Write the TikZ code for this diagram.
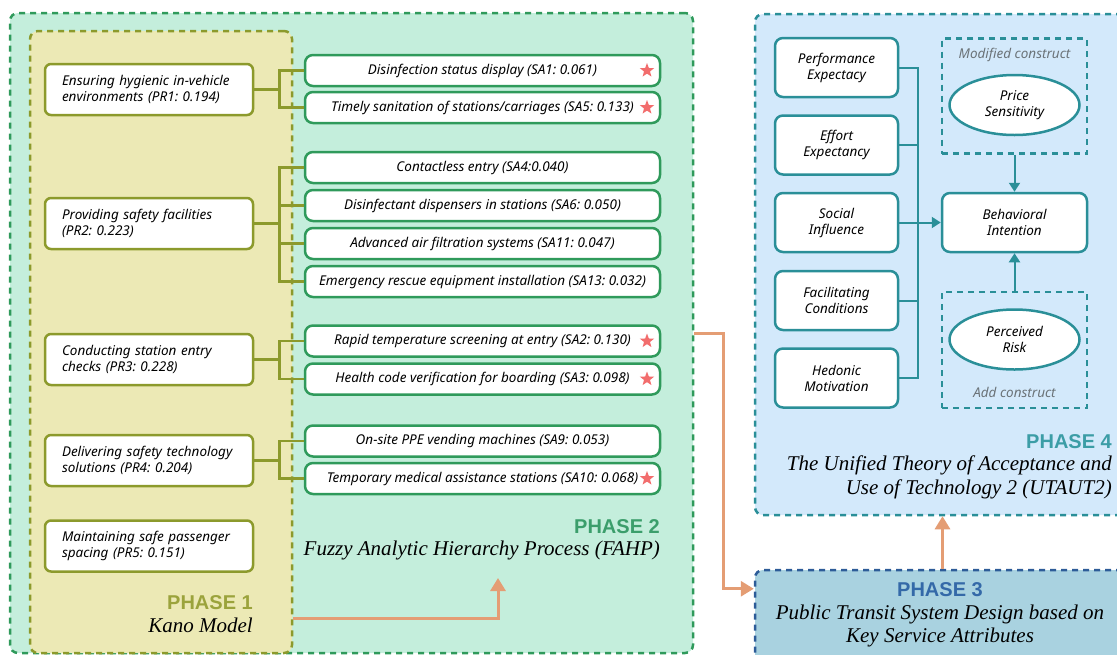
\documentclass[tikz,border=0pt]{standalone}
\usepackage{fontspec}
\setmainfont{Liberation Serif}
\setsansfont{Noto Sans}
\newfontfamily\titlefont{Liberation Sans}
\usetikzlibrary{shapes.geometric,arrows.meta}
\definecolor{mintbg}{HTML}{C4EEDC}
\definecolor{kgreen}{HTML}{2F9A5B}
\definecolor{yellowbg}{HTML}{ECE9B5}
\definecolor{kolive}{HTML}{8C9A2C}
\definecolor{bluebg}{HTML}{D3E9FB}
\definecolor{uteal}{HTML}{2A8F98}
\definecolor{ph3bg}{HTML}{A9D2E0}
\definecolor{ph3line}{HTML}{2D5C98}
\definecolor{ph3txt}{HTML}{3469A8}
\definecolor{orng}{HTML}{E49D74}
\definecolor{ph1txt}{HTML}{9BA33C}
\definecolor{ph2txt}{HTML}{3B9E6B}
\definecolor{ph4txt}{HTML}{3C9DA6}
\definecolor{starred}{HTML}{F26D6D}
\definecolor{graytxt}{HTML}{6B7378}
\frenchspacing
\begin{document}
\begin{tikzpicture}[x=1pt,y=-1pt,
  every node/.style={font=\sffamily\itshape\fontsize{13.5}{16.5}\selectfont},
  ph1box/.style={draw=kolive, fill=yellowbg, line width=2.5pt, dash pattern=on 6pt off 5pt, rounded corners=8pt, inner sep=0pt},
  ph2box/.style={draw=kgreen, fill=mintbg, line width=2.5pt, dash pattern=on 6pt off 5pt, rounded corners=8pt, inner sep=0pt},
  ph4box/.style={draw=uteal, fill=bluebg, line width=2.5pt, dash pattern=on 6pt off 5pt, rounded corners=8pt, inner sep=0pt},
  ph3box/.style={draw=ph3line, fill=ph3bg, line width=2.5pt, dash pattern=on 6pt off 5pt, rounded corners=8pt, inner sep=0pt},
  prbox/.style={draw=kolive, fill=white, line width=2.5pt, rounded corners=6pt, text width=174pt, align=left, inner xsep=17pt, minimum height=51pt},
  sabox/.style={draw=kgreen, fill=white, line width=2.5pt, rounded corners=8pt, minimum width=355pt, minimum height=31pt, inner sep=0pt},
  ubox/.style={draw=uteal, fill=white, line width=2.5pt, rounded corners=8pt, minimum width=123pt, minimum height=59pt, align=center, font=\sffamily\itshape\fontsize{13.5}{16}\selectfont},
  uell/.style={ellipse, draw=uteal, fill=white, line width=2.5pt, minimum width=130pt, minimum height=60pt, align=center, inner sep=0pt, font=\sffamily\itshape\fontsize{13.5}{16}\selectfont},
  cbox/.style={draw=uteal, line width=2.5pt, dash pattern=on 6pt off 5pt, minimum width=145pt, inner sep=0pt},
  redstar/.style={star, star points=5, star point ratio=2.4, fill=starred, minimum size=15pt, inner sep=0pt},
  prline/.style={draw=kolive, line width=2.5pt},
  uline/.style={draw=uteal, line width=2pt},
  uarrow/.style={uline, -{Triangle[length=9pt,width=11pt]}},
  flow/.style={draw=orng, line width=3pt, -{Triangle[length=13pt,width=15pt]}},
  phtitle/.style={font=\titlefont\bfseries\fontsize{20}{22}\selectfont, inner sep=0pt},
  phname/.style={font=\rmfamily\itshape\fontsize{21}{23.5}\selectfont, inner sep=0pt}]
  \clip (0,0) rectangle (1117,654);
  \node[ph2box, minimum width=683pt, minimum height=640pt] (ph2) at (351.5,333) {};
  \node[ph1box, minimum width=262pt, minimum height=622pt] (ph1) at (161,342) {};
  \node[ph4box, minimum width=375pt, minimum height=501pt] (ph4) at (942.5,264.5) {};
  \node[ph3box, minimum width=375pt, minimum height=110pt] (ph3) at (942.5,625) {};
  \node[prbox] (pr1) at (149,89.5) {Ensuring hygienic in-vehicle\\environments (PR1: 0.194)};
  \node[prbox] (pr2) at (149,223.5) {Providing safety facilities\\(PR2: 0.223)};
  \node[prbox] (pr3) at (149,359.5) {Conducting station entry\\checks (PR3: 0.228)};
  \node[prbox] (pr4) at (149,460.5) {Delivering safety technology\\solutions (PR4: 0.204)};
  \node[prbox] (pr5) at (149,546) {Maintaining safe passenger\\spacing (PR5: 0.151)};
  \node[sabox] (sa1) at (482.5,70.5) {Disinfection status display (SA1: 0.061)};
  \node[sabox] (sa5) at (482.5,107.5) {Timely sanitation of stations/carriages (SA5: 0.133)};
  \node[sabox] (sa4) at (482.5,167.5) {Contactless entry (SA4:0.040)};
  \node[sabox] (sa6) at (482.5,205.5) {Disinfectant dispensers in stations (SA6: 0.050)};
  \node[sabox] (sa11) at (482.5,243.5) {Advanced air filtration systems (SA11: 0.047)};
  \node[sabox] (sa13) at (482.5,281.5) {Emergency rescue equipment installation (SA13: 0.032)};
  \node[sabox] (sa2) at (482.5,341) {Rapid temperature screening at entry (SA2: 0.130)};
  \node[sabox] (sa3) at (482.5,379) {Health code verification for boarding (SA3: 0.098)};
  \node[sabox] (sa9) at (482.5,441) {On-site PPE vending machines (SA9: 0.053)};
  \node[sabox] (sa10) at (482.5,478.5) {Temporary medical assistance stations (SA10: 0.068)};
  \node[redstar] (st1) at (647,70.5) {};
  \node[redstar] (st5) at (647,107.5) {};
  \node[redstar] (st2) at (647,341) {};
  \node[redstar] (st3) at (647,379) {};
  \node[redstar] (st10) at (647,478.5) {};
  \draw[prline] (pr1.east) -- ++(25,0) |- (sa1.west);
  \draw[prline] (pr1.east) -- ++(25,0) |- (sa5.west);
  \draw[prline] (pr2.east) -- ++(25,0) |- (sa4.west);
  \draw[prline] (pr2.east) -- ++(25,0) |- (sa6.west);
  \draw[prline] (pr2.east) -- ++(25,0) |- (sa11.west);
  \draw[prline] (pr2.east) -- ++(25,0) |- (sa13.west);
  \draw[prline] (pr3.east) -- ++(25,0) |- (sa2.west);
  \draw[prline] (pr3.east) -- ++(25,0) |- (sa3.west);
  \draw[prline] (pr4.east) -- ++(25,0) |- (sa9.west);
  \draw[prline] (pr4.east) -- ++(25,0) |- (sa10.west);
  \node[phtitle, text=ph1txt, anchor=east] (p1t) at (253,603) {PHASE 1};
  \node[phname, anchor=east] (p1n) at (253,625) {Kano Model};
  \node[phtitle, text=ph2txt, anchor=east] (p2t) at (660,527) {PHASE 2};
  \node[phname, anchor=east] (p2n) at (660,550) {Fuzzy Analytic Hierarchy Process (FAHP)};
  \coordinate (ph2in) at (498,578);
  \draw[flow] ([yshift=36pt]ph1.south east) -| (ph2in);
  \node[ubox] (pe) at (836.5,67.5) {Performance\\Expectacy};
  \node[ubox] (ee) at (836.5,145) {Effort\\Expectancy};
  \node[ubox] (si) at (836.5,222.5) {Social\\Influence};
  \node[ubox] (fc) at (836.5,300.5) {Facilitating\\Conditions};
  \node[ubox] (hm) at (836.5,378) {Hedonic\\Motivation};
  \node[cbox, minimum height=115pt] (mc) at (1014.5,96) {};
  \node[cbox, minimum height=116pt] (ac) at (1014.5,350) {};
  \node[text=graytxt] (mct) at (1014.5,55) {Modified construct};
  \node[text=graytxt] (act) at (1014.5,392) {Add construct};
  \node[uell] (ps) at (1014.5,105) {Price\\Sensitivity};
  \node[uell] (rk) at (1014.5,339.5) {Perceived\\Risk};
  \node[ubox, minimum width=145pt] (bi) at (1014.5,222.5) {Behavioral\\Intention};
  \coordinate (ubus) at (918,222.5);
  \draw[uline] (pe.east) -| (ubus);
  \draw[uline] (hm.east) -| (ubus);
  \draw[uline] (ee.east) -- (ee.east -| ubus);
  \draw[uline] (fc.east) -- (fc.east -| ubus);
  \draw[uarrow] (si.east) -- (bi.west);
  \draw[uarrow] (mc.south) -- (bi.north);
  \draw[uarrow] (ac.north) -- (bi.south);
  \node[phtitle, text=ph4txt, anchor=east] (p4t) at (1112,442) {PHASE 4};
  \node[phname, anchor=east, align=right] (p4n) at (1112,477.5) {The Unified Theory of Acceptance and\\Use of Technology 2 (UTAUT2)};
  \node[phtitle, text=ph3txt] (p3t) at (940,590) {PHASE 3};
  \node[phname, align=center] (p3n) at (940,626) {Public Transit System Design based on\\Key Service Attributes};
  \draw[flow] (ph2.east) -- ++(29,0) |- ([yshift=-20pt]ph3.north west);
  \draw[flow] (ph3.north) -- (ph4.south);
\end{tikzpicture}
\end{document}
